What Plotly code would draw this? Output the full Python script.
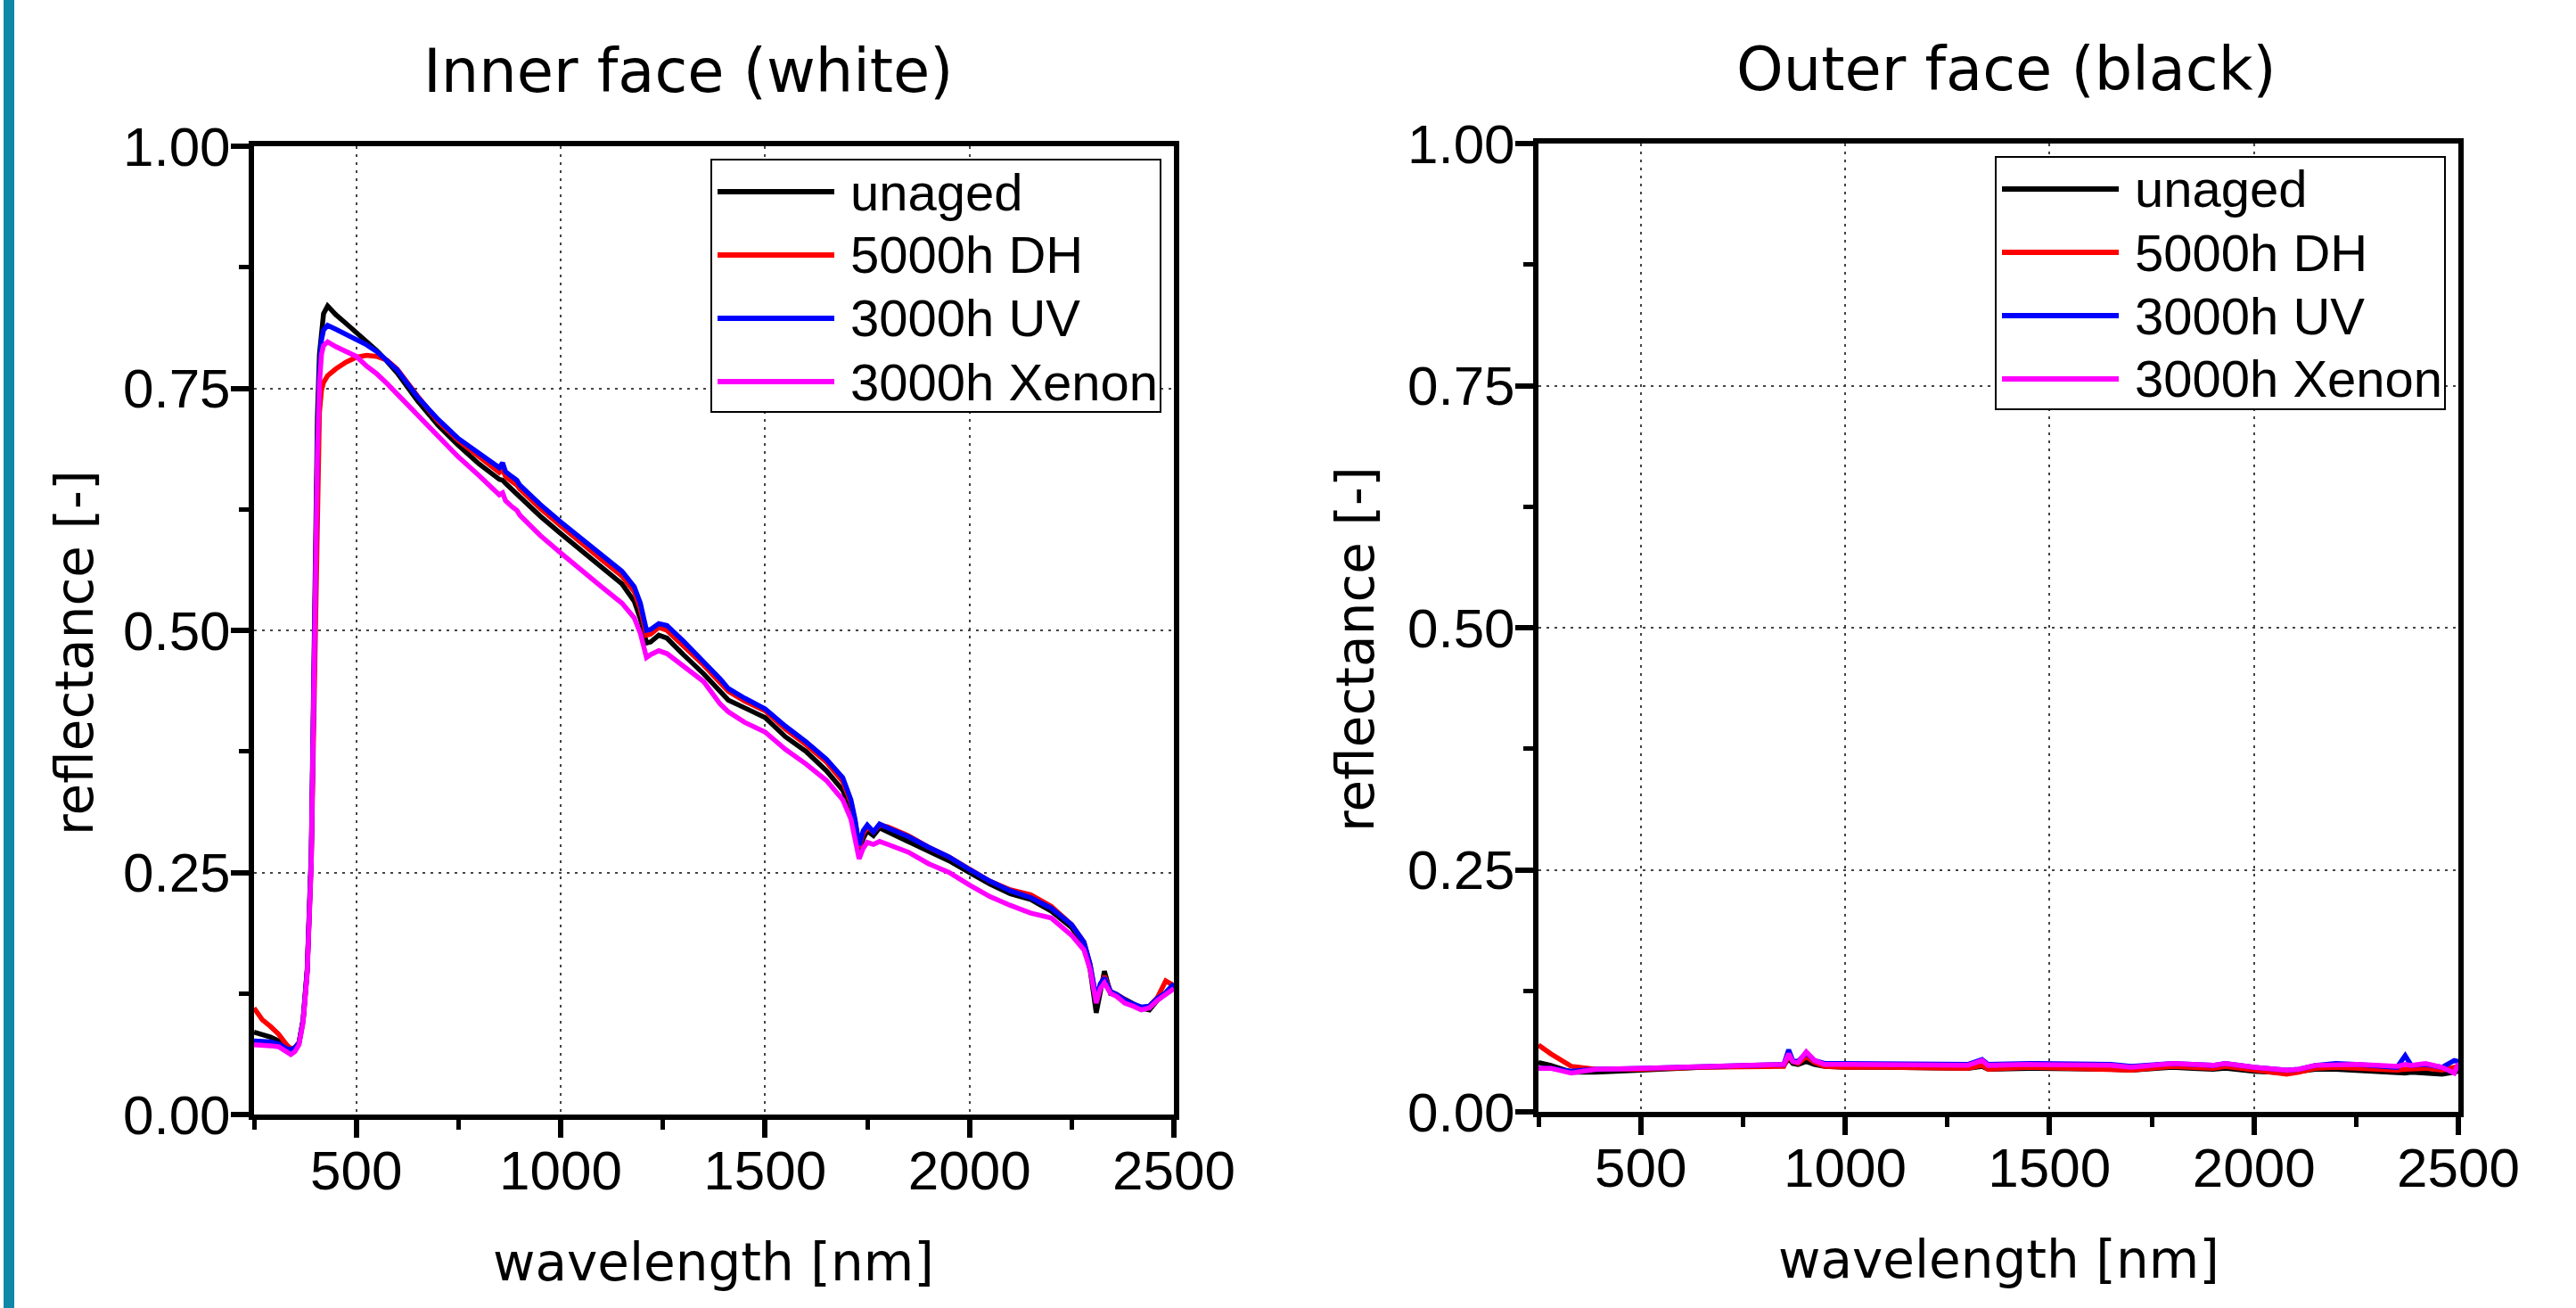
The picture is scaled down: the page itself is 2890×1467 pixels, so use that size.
import plotly.graph_objects as go

W, H = 2890, 1467

series_names = ["unaged", "5000h DH", "3000h UV", "3000h Xenon"]
series_colors = ["#000000", "#ff0000", "#0000ff", "#ff00ff"]

# inner face (white) spectra
wl_inner = [250, 270, 290, 310, 330, 340, 350, 360, 370, 380,
            390, 395, 400, 405, 410, 415, 420, 430, 450, 475,
            500, 525, 550, 575, 600, 650, 700, 750, 800, 850,
            858, 865, 880, 893, 900, 950, 1000, 1050, 1100, 1150,
            1180, 1195, 1210, 1220, 1240, 1260, 1300, 1350, 1390, 1410,
            1450, 1500, 1550, 1600, 1650, 1690, 1710, 1720, 1730, 1740,
            1750, 1765, 1780, 1800, 1850, 1900, 1950, 2000, 2050, 2100,
            2150, 2200, 2250, 2280, 2295, 2310, 2320, 2330, 2345, 2360,
            2380, 2400, 2420, 2440, 2460, 2480, 2500]
inner_unaged = [.085, .083, .080, .076, .069, .068, .069, .074, .098, .150,
                .270, .420, .600, .720, .785, .815, .827, .835, .826, .817,
                .808, .798, .789, .778, .766, .737, .712, .691, .672, .656,
                .655, .652, .646, .641, .638, .618, .600, .583, .566, .548,
                .530, .512, .487, .488, .495, .492, .475, .455, .437, .428,
                .420, .410, .390, .375, .355, .335, .315, .300, .273, .285,
                .293, .288, .296, .292, .283, .272, .262, .250, .238, .228,
                .222, .210, .193, .175, .150, .105, .130, .148, .125, .124,
                .119, .114, .110, .108, .118, .125, .133]
inner_dh = [.110, .098, .091, .083, .072, .068, .069, .074, .097, .148,
            .260, .390, .540, .660, .725, .748, .756, .763, .770, .777,
            .782, .784, .783, .779, .770, .742, .716, .696, .679, .663,
            .666, .659, .654, .650, .646, .626, .608, .590, .573, .556,
            .540, .522, .495, .496, .503, .500, .484, .464, .446, .437,
            .427, .417, .398, .382, .364, .344, .322, .303, .276, .290,
            .297, .292, .299, .297, .288, .276, .266, .253, .241, .232,
            .227, .215, .196, .178, .155, .118, .133, .143, .127, .124,
            .118, .113, .110, .112, .121, .138, .133]
inner_uv = [.076, .076, .075, .073, .068, .067, .069, .074, .097, .148,
            .265, .405, .575, .690, .770, .800, .810, .815, .811, .806,
            .801, .795, .788, .779, .769, .741, .718, .698, .683, .668,
            .673, .664, .659, .655, .650, .630, .612, .595, .578, .561,
            .545, .528, .500, .501, .507, .505, .489, .468, .450, .440,
            .430, .419, .401, .385, .367, .348, .325, .305, .278, .293,
            .299, .292, .300, .296, .287, .276, .266, .253, .241, .231,
            .224, .213, .196, .178, .155, .120, .135, .141, .127, .124,
            .118, .114, .111, .112, .120, .126, .135]
inner_xenon = [.072, .072, .071, .070, .064, .062, .065, .072, .095, .145,
               .260, .400, .560, .680, .755, .785, .794, .798, .793, .788,
               .783, .773, .765, .755, .744, .722, .700, .679, .660, .640,
               .642, .634, .628, .624, .619, .598, .580, .562, .545, .528,
               .513, .497, .472, .475, .479, .476, .463, .447, .424, .416,
               .405, .395, .377, .362, .345, .325, .305, .285, .264, .275,
               .281, .279, .282, .279, .271, .259, .250, .237, .225, .216,
               .208, .203, .185, .170, .150, .115, .130, .136, .125, .122,
               .115, .112, .108, .110, .118, .124, .130]

# outer face (black) spectra
wl_outer = [250, 280, 330, 390, 500, 650, 850, 862, 872, 885,
            905, 925, 950, 1000, 1100, 1200, 1300, 1335, 1350, 1450,
            1550, 1650, 1700, 1800, 1850, 1900, 1930, 2000, 2080, 2110,
            2150, 2200, 2250, 2300, 2350, 2370, 2385, 2420, 2460, 2490,
            2500]
outer_unaged = [.051, .048, .041, .041, .043, .046, .048, .055, .050, .049,
                .052, .049, .047, .046, .046, .045, .045, .047, .044, .045,
                .045, .044, .043, .046, .045, .044, .045, .042, .040, .042,
                .044, .044, .043, .042, .041, .040, .041, .040, .039, .041,
                .042]
outer_dh = [.069, .060, .047, .044, .044, .046, .047, .058, .052, .050,
            .057, .051, .047, .046, .046, .046, .045, .048, .044, .046,
            .045, .044, .043, .047, .046, .045, .047, .043, .039, .041,
            .045, .046, .045, .045, .043, .044, .044, .045, .043, .046,
            .047]
outer_uv = [.045, .045, .042, .044, .045, .047, .049, .064, .053, .052,
            .061, .053, .050, .050, .050, .050, .049, .054, .049, .050,
            .049, .049, .047, .050, .049, .048, .050, .046, .043, .044,
            .048, .050, .049, .047, .046, .058, .048, .049, .046, .053,
            .052]
outer_xenon = [.045, .045, .040, .044, .045, .047, .049, .060, .052, .051,
               .062, .053, .049, .049, .049, .049, .048, .053, .048, .049,
               .048, .048, .046, .050, .049, .048, .050, .046, .043, .044,
               .048, .049, .049, .048, .047, .049, .048, .050, .046, .040,
               .050]

x_ticks = [500, 1000, 1500, 2000, 2500]
x_minor = [250, 750, 1250, 1750, 2250]
y_ticks = [0, 0.25, 0.5, 0.75, 1.0]
y_minor = [0.125, 0.375, 0.625, 0.875]


def fx(p):
    return p / W


def fy(p):
    return 1 - p / H


# pixel boxes of the two panels (left, right, top, bottom)
panels = [
    dict(box=(285, 1317, 164, 1250), title="Inner face (white)", tc=(772, 80),
         xt=(800, 1416), yt=(84, 732), wl=wl_inner,
         ys=[inner_unaged, inner_dh, inner_uv, inner_xenon]),
    dict(box=(1726, 2758, 161, 1247), title="Outer face (black)", tc=(2251, 78),
         xt=(2242, 1413), yt=(1521, 728), wl=wl_outer,
         ys=[outer_unaged, outer_dh, outer_uv, outer_xenon]),
]

fig = go.Figure()
annotations = []
shapes = [dict(type="rect", xref="paper", yref="paper", x0=fx(4), x1=fx(16), y0=0, y1=1,
               fillcolor="#0f87a7", line=dict(width=0), layer="above")]

title_font = dict(family="DejaVu Sans", size=67, color="black")
axis_title_font = dict(family="DejaVu Sans", size=58, color="black")
tick_font = dict(family="Liberation Sans, Arial", size=62, color="black")
legend_font = dict(family="Liberation Sans, Arial", size=58, color="black")

for i, p in enumerate(panels):
    n = "" if i == 0 else str(i + 1)
    l, r, t, b = p["box"]
    common = dict(showline=True, linewidth=6, linecolor="black", mirror=True,
                  ticks="outside", ticklen=20, tickwidth=6, tickcolor="black",
                  showgrid=True, gridcolor="#444444", gridwidth=2, griddash="3px,6px",
                  zeroline=False, tickfont=tick_font, automargin=False)
    fig.layout["xaxis" + n] = dict(
        common, domain=[fx(l), fx(r)], range=[250, 2500], anchor="y" + n,
        tickvals=x_ticks, ticklabelstandoff=-16,
        minor=dict(tickvals=x_minor, ticks="outside", ticklen=11, tickwidth=5,
                   tickcolor="black", showgrid=False))
    fig.layout["yaxis" + n] = dict(
        common, domain=[fy(b), fy(t)], range=[0, 1], anchor="x" + n,
        tickvals=y_ticks, ticktext=["%.2f" % v for v in y_ticks], ticklabelstandoff=-12,
        minor=dict(tickvals=y_minor, ticks="outside", ticklen=11, tickwidth=5,
                   tickcolor="black", showgrid=False))

    for name, color, y in zip(series_names, series_colors, p["ys"]):
        fig.add_trace(go.Scatter(x=p["wl"], y=y, mode="lines", name=name,
                                 line=dict(color=color, width=5.5),
                                 xaxis="x" + n, yaxis="y" + n, showlegend=False))

    annotations.append(dict(text=p["title"], x=fx(p["tc"][0]), y=fy(p["tc"][1]),
                            xref="paper", yref="paper", showarrow=False,
                            xanchor="center", yanchor="middle", font=title_font))
    annotations.append(dict(text="wavelength [nm]", x=fx(p["xt"][0]), y=fy(p["xt"][1]),
                            xref="paper", yref="paper", showarrow=False,
                            xanchor="center", yanchor="middle", font=axis_title_font))
    annotations.append(dict(text="reflectance [-]", x=fx(p["yt"][0]), y=fy(p["yt"][1]),
                            xref="paper", yref="paper", showarrow=False, textangle=-90,
                            xanchor="center", yanchor="middle", font=axis_title_font))

    # boxed legend in the upper right corner
    lr = r - 15
    ll = lr - 504
    lt = t + 15
    lb = lt + 283
    shapes.append(dict(type="rect", xref="paper", yref="paper",
                       x0=fx(ll), x1=fx(lr), y0=fy(lb), y1=fy(lt),
                       fillcolor="white", line=dict(color="black", width=2), layer="above"))
    for k, (name, color) in enumerate(zip(series_names, series_colors)):
        ry = lt + 36 + 71 * k
        shapes.append(dict(type="line", xref="paper", yref="paper",
                           x0=fx(ll + 7), x1=fx(ll + 138), y0=fy(ry), y1=fy(ry),
                           line=dict(color=color, width=6), layer="above"))
        annotations.append(dict(text=name, x=fx(ll + 154), y=fy(ry),
                                xref="paper", yref="paper", showarrow=False,
                                xanchor="left", yanchor="middle", font=legend_font))

fig.update_layout(
    template="none",
    width=W, height=H,
    margin=dict(l=0, r=0, t=0, b=0, pad=0, autoexpand=False),
    paper_bgcolor="white", plot_bgcolor="white",
    font=dict(family="DejaVu Sans", color="black"),
    annotations=annotations, shapes=shapes,
    showlegend=False,
)

fig.write_html("out.html", config={"displayModeBar": False},
               post_script="document.body.style.margin='0';document.body.style.overflow='hidden';")
